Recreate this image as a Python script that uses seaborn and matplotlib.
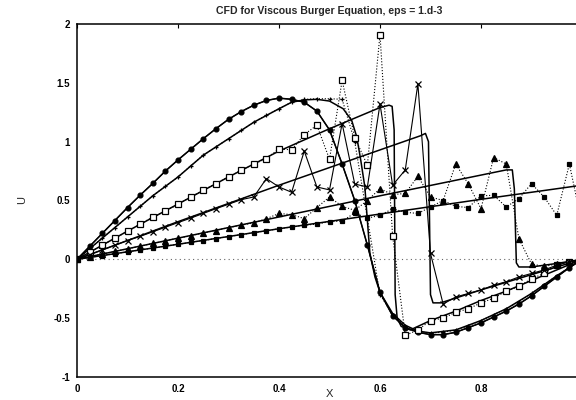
import numpy as np
import pandas as pd
import matplotlib
matplotlib.use("Agg")
import matplotlib.pyplot as plt
import seaborn as sns

# ---------------- data ----------------
title = "CFD for Viscous Burger Equation, eps = 1.d-3"
xlabel = "X"
ylabel = "U"
xticks = [0, 0.2, 0.4, 0.6, 0.8]
xticklabels = ["0", "0.2", "0.4", "0.6", "0.8"]
yticks = [-1, -0.5, 0, 0.5, 1, 1.5, 2]
yticklabels = ["-1", "-0.5", "0", "0.5", "1", "1.5", "2"]

# grid of numerical solution
x_grid = [i * 0.025 for i in range(41)]

# exact (solid) solutions
a_x = [0, 0.025, 0.05, 0.075, 0.1, 0.125, 0.15, 0.175, 0.2, 0.225, 0.25, 0.275, 0.3,
       0.325, 0.35, 0.375, 0.4, 0.425, 0.45, 0.475, 0.5, 0.525, 0.55, 0.575, 0.6,
       0.625, 0.65, 0.675, 0.7, 0.725, 0.75, 0.775, 0.8, 0.825, 0.85, 0.875, 0.9,
       0.925, 0.95, 0.975, 1.0]
a_y = [0, 0.11, 0.22, 0.33, 0.44, 0.545, 0.645, 0.75, 0.845, 0.935, 1.025, 1.11, 1.19,
       1.255, 1.31, 1.35, 1.37, 1.36, 1.335, 1.26, 1.10, 0.81, 0.50, 0.12, -0.28,
       -0.48, -0.58, -0.62, -0.64, -0.64, -0.62, -0.58, -0.54, -0.49, -0.44, -0.38, -0.31,
       -0.23, -0.15, -0.07, 0.0]

b_x = [0, 0.05, 0.1, 0.15, 0.2, 0.25, 0.3, 0.35, 0.4, 0.425, 0.45, 0.475, 0.5, 0.527,
       0.544, 0.554, 0.562, 0.57, 0.575, 0.58, 0.59, 0.6, 0.625, 0.65, 0.675, 0.7,
       0.75, 0.8, 0.85, 0.9, 0.95, 1.0]
b_y = [0, 0.18, 0.36, 0.54, 0.70, 0.885, 1.025, 1.165, 1.28, 1.335, 1.355, 1.36, 1.345, 1.28,
       1.18, 1.04, 0.84, 0.615, 0.33, 0.05, -0.15, -0.28, -0.46, -0.56, -0.61, -0.625,
       -0.60, -0.52, -0.42, -0.29, -0.14, 0.0]

c_x = [0, 0.1, 0.2, 0.3, 0.4, 0.5, 0.6, 0.618, 0.624, 0.628, 0.630, 0.634, 0.642, 0.66,
       0.7, 0.75, 0.8, 0.85, 0.9, 0.95, 1.0]
c_y = [0, 0.24, 0.47, 0.70, 0.92, 1.11, 1.29, 1.31, 1.30, 1.10, -0.30, -0.50, -0.57, -0.60,
       -0.52, -0.44, -0.35, -0.27, -0.18, -0.09, 0.0]

d_x = [0, 0.2, 0.4, 0.6, 0.68, 0.69, 0.696, 0.700, 0.705, 0.72, 0.8, 0.9, 1.0]
d_y = [0, 0.32, 0.63, 0.93, 1.05, 1.07, 1.0, -0.30, -0.37, -0.37, -0.26, -0.13, 0.0]

e_x = [0, 0.2, 0.4, 0.6, 0.85, 0.862, 0.866, 0.87, 0.875, 0.9, 0.95, 1.0]
e_y = [0, 0.18, 0.36, 0.54, 0.76, 0.76, 0.60, -0.03, -0.065, -0.065, -0.035, 0.0]

f_x = [0, 0.2, 0.4, 0.6, 0.8, 1.0]
f_y = [0, 0.128, 0.26, 0.385, 0.51, 0.63]

# numerical (markers) solutions on x_grid
a_num = a_y
b_num = [0, 0.09, 0.18, 0.27, 0.36, 0.45, 0.54, 0.62, 0.70, 0.795, 0.885, 0.955, 1.025,
         1.095, 1.165, 1.225, 1.28, 1.335, 1.36, 1.365, 1.365, 1.36, 1.0, 0.35, -0.30,
         -0.47, -0.57, -0.615, -0.625, -0.62, -0.60, -0.565, -0.52, -0.47, -0.42, -0.36,
         -0.29, -0.215, -0.14, -0.07, 0.0]
c_num = [0, 0.06, 0.12, 0.18, 0.238, 0.298, 0.36, 0.41, 0.468, 0.53, 0.587, 0.644, 0.70,
         0.757, 0.81, 0.856, 0.94, 0.93, 1.06, 1.14, 0.85, 1.52, 1.035, 0.80, 1.91,
         0.2, -0.646, -0.60, -0.52, -0.50, -0.45, -0.42, -0.37, -0.33, -0.27, -0.23,
         -0.165, -0.12, -0.05, -0.02, 0.0]
d_num = [0, 0.04, 0.08, 0.12, 0.16, 0.195, 0.234, 0.273, 0.312, 0.35, 0.39, 0.43, 0.468,
         0.507, 0.53, 0.686, 0.615, 0.57, 0.92, 0.615, 0.59, 1.154, 0.64, 0.615, 1.32,
         0.63, 0.76, 1.49, 0.05, -0.38, -0.32, -0.29, -0.26, -0.22, -0.19, -0.15,
         -0.12, -0.09, -0.05, -0.02, 0.0]
e_num = [0, 0.022, 0.045, 0.067, 0.09, 0.112, 0.135, 0.157, 0.18, 0.2, 0.225, 0.245, 0.27,
         0.29, 0.31, 0.345, 0.39, 0.38, 0.346, 0.44, 0.53, 0.45, 0.417, 0.50, 0.60,
         0.55, 0.56, 0.705, 0.53, 0.50, 0.81, 0.64, 0.43, 0.865, 0.81, 0.176,
         -0.04, -0.06, -0.04, -0.02, 0.0]
f_num = [0, 0.016, 0.032, 0.048, 0.064, 0.08, 0.096, 0.112, 0.128, 0.144, 0.16, 0.177, 0.193,
         0.21, 0.226, 0.243, 0.26, 0.275, 0.29, 0.30, 0.32, 0.325, 0.394, 0.35, 0.374,
         0.43, 0.40, 0.39, 0.445, 0.50, 0.45, 0.44, 0.54, 0.544, 0.445, 0.516,
         0.643, 0.53, 0.374, 0.81, 0.30]

zero_x = [0, 1]
zero_y = [0, 0]

# ---------------- plot ----------------
sns.set_theme(style="white")
plt.rcParams["font.family"] = ["Liberation Sans", "DejaVu Sans"]

fig = plt.figure(figsize=(5.76, 4.0), dpi=100)
ax = fig.add_axes([77 / 576, 23 / 400, 505 / 576, 353 / 400])

k = "black"
exact = [(a_x, a_y), (b_x, b_y), (c_x, c_y), (d_x, d_y), (e_x, e_y), (f_x, f_y)]
for ex, ey in exact:
    sns.lineplot(x=ex, y=ey, ax=ax, color=k, lw=1.1, sort=False, estimator=None)

sns.lineplot(x=zero_x, y=zero_y, ax=ax, color="#666666", lw=0.8, linestyle=(0, (1, 3)),
             sort=False, estimator=None)

nums = [
    (a_num, "o", "-", k, 3.5),
    (b_num, "+", ":", k, 3.5),
    (c_num, "s", ":", "white", 3.8),
    (d_num, "x", "-", k, 3.8),
    (e_num, "^", ":", k, 3.8),
    (f_num, "s", ":", k, 3.2),
]
for yv, mk, ls, fc, ms in nums:
    sns.lineplot(x=x_grid, y=yv, ax=ax, color=k, lw=0.8, linestyle=ls, marker=mk,
                 markersize=ms, markerfacecolor=fc, markeredgecolor=k, markeredgewidth=0.9,
                 sort=False, estimator=None)

ax.set_xlim(0, 1)
ax.set_ylim(-1, 2)
ax.set_xticks(xticks)
ax.set_xticklabels(xticklabels, fontweight="bold")
ax.set_yticks(yticks)
ax.set_yticklabels(yticklabels, fontweight="bold")
ax.tick_params(direction="in", length=3, width=0.8, labelsize=7, colors=k,
               top=True, right=True, pad=5)
for s in ax.spines.values():
    s.set_color(k)
    s.set_linewidth(1.1)
ax.set_title(title, fontsize=7.6, fontweight="bold", pad=7)
ax.set_xlabel(xlabel, fontsize=8)
ax.xaxis.set_label_coords(0.5, (377 - 394) / 353)
ax.xaxis.label.set_va("center")
ax.set_ylabel(ylabel, fontsize=8)
ax.yaxis.set_label_coords((22 - 77) / 505, 0.5)
ax.yaxis.label.set_va("center")

fig.savefig("out.png", dpi=100)
